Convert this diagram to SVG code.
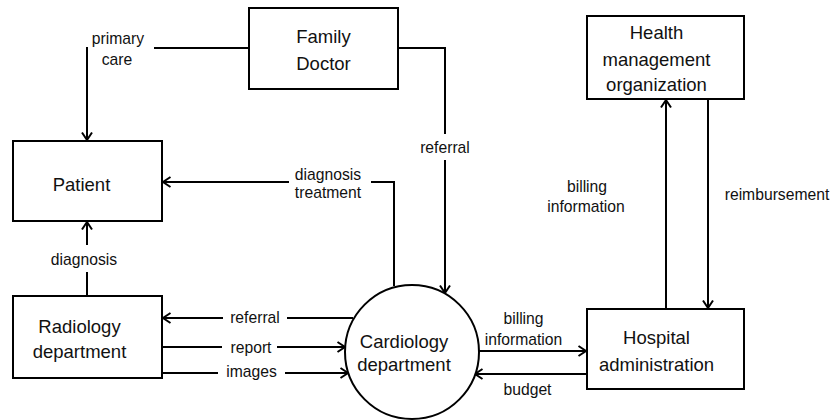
<svg xmlns="http://www.w3.org/2000/svg" width="831" height="420" viewBox="0 0 831 420">
  <defs>
    <style>
      .box { fill: #fff; stroke: #000; stroke-width: 2; }
      .flow { fill: none; stroke: #000; stroke-width: 2; }
      .arrow { fill: none; stroke: #000; stroke-width: 2; stroke-linejoin: miter; }
      .node { font-family: "Liberation Sans", Arial, sans-serif; font-size: 18.5px; fill: #111; text-anchor: middle; }
      .lbl { font-family: "Liberation Sans", Arial, sans-serif; font-size: 15.7px; fill: #111; text-anchor: middle; }
    </style>
    <marker id="head" markerUnits="userSpaceOnUse" markerWidth="14" markerHeight="14" viewBox="-10 -7 12 14" refX="0" refY="0" orient="auto">
      <path class="arrow" d="M-7.5,-5 L0,0 L-7.5,5"/>
    </marker>
  </defs>

  <rect width="831" height="420" fill="#fff"/>

  <!-- data flows -->
  <g id="connectors">
    <!-- Family Doctor -> Patient -->
    <path class="flow" d="M249,48 H154"/>
    <path class="flow" d="M87,47 V140" marker-end="url(#head)"/>
    <!-- Family Doctor -> Cardiology (referral) -->
    <path class="flow" d="M398,48 H445 V134"/>
    <path class="flow" d="M445,160 V293" marker-end="url(#head)"/>
    <!-- Cardiology -> Patient -->
    <path class="flow" d="M394,286 V182 H371"/>
    <path class="flow" d="M289,182 H163" marker-end="url(#head)"/>
    <!-- Radiology -> Patient -->
    <path class="flow" d="M87,296 V272"/>
    <path class="flow" d="M87,245 V222" marker-end="url(#head)"/>
    <!-- Cardiology -> Radiology (referral) -->
    <path class="flow" d="M353,318 H287"/>
    <path class="flow" d="M223,318 H163" marker-end="url(#head)"/>
    <!-- Radiology -> Cardiology (report, images) -->
    <path class="flow" d="M162,347 H222"/>
    <path class="flow" d="M277,347 H345" marker-end="url(#head)"/>
    <path class="flow" d="M162,373 H218"/>
    <path class="flow" d="M285,373 H348" marker-end="url(#head)"/>
    <!-- Cardiology <-> Hospital administration -->
    <path class="flow" d="M479,351 H586" marker-end="url(#head)"/>
    <path class="flow" d="M587,374 H475" marker-end="url(#head)"/>
    <!-- Hospital administration <-> HMO -->
    <path class="flow" d="M666,309 V100" marker-end="url(#head)"/>
    <path class="flow" d="M708,99 V308" marker-end="url(#head)"/>
  </g>

  <!-- flow labels -->
  <g id="labels">
    <text class="lbl" x="118" y="44">primary</text>
    <text class="lbl" x="117" y="65">care</text>
    <text class="lbl" x="445" y="153">referral</text>
    <text class="lbl" x="328" y="179.5">diagnosis</text>
    <text class="lbl" x="328" y="198">treatment</text>
    <text class="lbl" x="84" y="264.5">diagnosis</text>
    <text class="lbl" x="255" y="323">referral</text>
    <text class="lbl" x="251" y="352.5">report</text>
    <text class="lbl" x="251.5" y="377">images</text>
    <text class="lbl" x="523.5" y="323.5">billing</text>
    <text class="lbl" x="523.5" y="345">information</text>
    <text class="lbl" x="527.5" y="394.5">budget</text>
    <text class="lbl" x="587" y="192">billing</text>
    <text class="lbl" x="586" y="212">information</text>
    <text class="lbl" x="777" y="200">reimbursement</text>
  </g>

  <g id="family-doctor">
    <rect class="box" x="249" y="8" width="149" height="81"/>
    <text class="node" x="323.5" y="43">Family</text>
    <text class="node" x="323.5" y="69.5">Doctor</text>
  </g>

  <g id="patient">
    <rect class="box" x="13" y="141" width="149" height="80"/>
    <text class="node" x="81.5" y="191">Patient</text>
  </g>

  <g id="radiology">
    <rect class="box" x="13" y="296" width="149" height="82"/>
    <text class="node" x="79.5" y="332.5">Radiology</text>
    <text class="node" x="79.5" y="358">department</text>
  </g>

  <g id="cardiology">
    <circle class="box" cx="412" cy="352" r="67"/>
    <text class="node" x="404" y="347.5">Cardiology</text>
    <text class="node" x="404" y="371">department</text>
  </g>

  <g id="hmo">
    <rect class="box" x="587" y="16" width="157" height="83"/>
    <text class="node" x="656.5" y="38.5">Health</text>
    <text class="node" x="656.5" y="65.5">management</text>
    <text class="node" x="656.5" y="90.5">organization</text>
  </g>

  <g id="hospital-administration">
    <rect class="box" x="587" y="309" width="157" height="80"/>
    <text class="node" x="656.5" y="343.5">Hospital</text>
    <text class="node" x="656.5" y="370.5">administration</text>
  </g>
</svg>
